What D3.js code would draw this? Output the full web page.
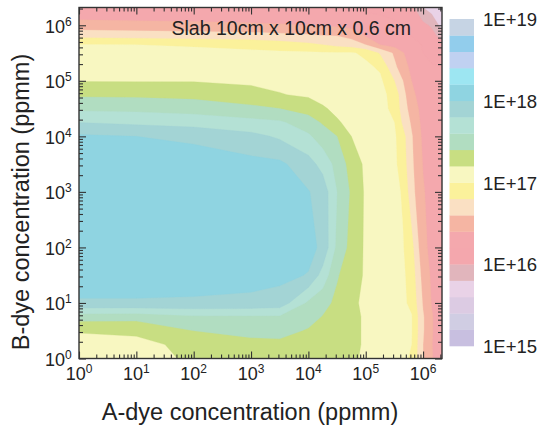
<!DOCTYPE html>
<html>
<head>
<meta charset="utf-8">
<script src="https://cdn.jsdelivr.net/npm/d3@7"></script>
<style>
    body { margin: 0; background: #fff; }
    text { font-family: "Liberation Sans", Arial, sans-serif; fill: #222; }
</style>
</head>
<body>
<svg id="chart" width="541" height="426"></svg>
<script>

// ========== DATA ==========

// grid nodes, log10 of the dye concentrations (ppmm)
const lxNodes = [0, 1, 2, 3, 3.5, 4, 4.25, 4.5, 4.75, 5, 5.25, 5.5, 5.65, 5.8, 6, 6.15, 6.33];
const lyNodes = [0, 0.25, 0.5, 0.75, 1, 1.5, 2, 3, 3.5, 4, 4.25, 4.5, 4.75, 5, 5.25, 5.5, 5.65, 5.8, 6, 6.32];

// log10 of the plotted value, one row per lyNodes entry (bottom to top), one column per lxNodes entry
const zRows = [
    [17.10, 17.15, 17.22, 17.32, 17.33, 17.30, 17.28, 17.25, 17.22, 17.18, 17.12, 17.06, 17.03, 16.98, 16.60, 16.42, 16.25],
    [17.15, 17.17, 17.23, 17.33, 17.35, 17.33, 17.30, 17.27, 17.24, 17.18, 17.13, 17.07, 17.03, 17.00, 16.60, 16.41, 16.25],
    [17.21, 17.22, 17.40, 17.47, 17.47, 17.38, 17.34, 17.29, 17.24, 17.18, 17.13, 17.07, 17.04, 17.01, 16.62, 16.42, 16.26],
    [17.49, 17.48, 17.57, 17.57, 17.57, 17.48, 17.39, 17.30, 17.24, 17.18, 17.13, 17.07, 17.04, 17.01, 16.62, 16.42, 16.26],
    [17.98, 17.98, 17.97, 17.95, 17.92, 17.56, 17.47, 17.35, 17.23, 17.17, 17.13, 17.07, 17.03, 16.96, 16.58, 16.39, 16.25],
    [18.10, 18.10, 18.10, 18.08, 18.05, 17.99, 17.72, 17.42, 17.27, 17.18, 17.13, 17.06, 17.03, 16.92, 16.52, 16.37, 16.26],
    [18.12, 18.12, 18.12, 18.12, 18.10, 18.06, 17.96, 17.55, 17.33, 17.17, 17.12, 17.05, 17.01, 16.87, 16.44, 16.36, 16.26],
    [18.12, 18.12, 18.12, 18.10, 18.07, 18.01, 17.92, 17.60, 17.37, 17.17, 17.12, 17.05, 16.98, 16.67, 16.42, 16.32, 16.27],
    [18.10, 18.10, 18.10, 18.06, 18.04, 17.88, 17.73, 17.53, 17.32, 17.16, 17.10, 17.04, 16.90, 16.64, 16.39, 16.31, 16.27],
    [18.03, 18.00, 17.96, 17.86, 17.77, 17.63, 17.50, 17.40, 17.20, 17.14, 17.09, 17.03, 16.87, 16.62, 16.36, 16.30, 16.26],
    [17.80, 17.76, 17.72, 17.66, 17.63, 17.49, 17.38, 17.22, 17.15, 17.12, 17.07, 17.00, 16.76, 16.57, 16.34, 16.29, 16.26],
    [17.56, 17.55, 17.52, 17.45, 17.40, 17.32, 17.22, 17.16, 17.13, 17.09, 17.05, 16.96, 16.69, 16.52, 16.32, 16.28, 16.25],
    [17.37, 17.36, 17.34, 17.26, 17.21, 17.17, 17.14, 17.12, 17.10, 17.07, 17.06, 16.93, 16.67, 16.45, 16.30, 16.27, 16.24],
    [17.19, 17.19, 17.19, 17.17, 17.15, 17.13, 17.12, 17.11, 17.10, 17.07, 17.04, 16.80, 16.60, 16.40, 16.27, 16.24, 16.23],
    [17.12, 17.12, 17.11, 17.10, 17.09, 17.08, 17.07, 17.06, 17.05, 17.04, 16.97, 16.64, 16.50, 16.34, 16.23, 16.21, 16.20],
    [17.06, 17.06, 17.05, 17.04, 17.03, 17.03, 17.02, 17.02, 17.02, 16.96, 16.78, 16.57, 16.41, 16.32, 16.20, 16.17, 16.18],
    [17.01, 17.00, 16.98, 16.94, 16.90, 16.84, 16.80, 16.74, 16.70, 16.60, 16.40, 16.33, 16.30, 16.26, 16.19, 16.15, 16.10],
    [16.76, 16.74, 16.72, 16.70, 16.67, 16.65, 16.62, 16.61, 16.55, 16.40, 16.33, 16.27, 16.23, 16.20, 16.15, 16.08, 15.92],
    [16.48, 16.46, 16.45, 16.43, 16.42, 16.40, 16.38, 16.37, 16.34, 16.31, 16.27, 16.23, 16.20, 16.15, 16.05, 15.97, 15.72],
    [16.22, 16.22, 16.22, 16.21, 16.20, 16.20, 16.19, 16.18, 16.17, 16.16, 16.15, 16.13, 16.10, 16.05, 15.80, 15.70, 15.60]
];

// colour levels (log10), bottom to top of the colour bar
const bandEdges = [15.0, 15.2, 15.4, 15.6, 15.8, 16.0, 16.2, 16.4, 16.6, 16.8, 17.0,
                   17.2, 17.4, 17.6, 17.8, 18.0, 18.2, 18.4, 18.6, 18.8, 19.0];
const bandColors = ['#c8bfe0', '#d0cde3', '#dccbe3', '#e9d2e7', '#e1b5bc', '#f4a7ad', '#f4a8ad',
                    '#f5b5a3', '#fae0c3', '#fbf19b', '#f8f7c1', '#c8de82', '#b1ddc1', '#b4e1d5',
                    '#a3d4d5', '#8fd4e1', '#9de6f2', '#c0d1f1', '#92cdec', '#c6d4e4'];

const decades = [0, 1, 2, 3, 4, 5, 6];
const cbValues = [15, 16, 17, 18, 19];
const cbLabels = ['1E+15', '1E+16', '1E+17', '1E+18', '1E+19'];


// ========== MAIN CODE ==========

const plot = { left: 79, right: 442, top: 7.5, bottom: 358.5 };

const svg = d3.select('#chart');

const x = d3.scaleLog()
    .domain([1, Math.pow(10, 6.33)])
    .range([plot.left, plot.right]);

const y = d3.scaleLog()
    .domain([1, Math.pow(10, 6.32)])
    .range([plot.bottom, plot.top]);

// grid coordinate of d3.contours -> log10 value of the node axis
function gridToLog(c, nodes) {
    let t = Math.max(0, Math.min(nodes.length - 1, c - 0.5));
    let i = Math.min(Math.floor(t), nodes.length - 2);
    return nodes[i] + (t - i) * (nodes[i + 1] - nodes[i]);
}

const toScreen = d3.geoTransform({
    point: function (gx, gy) {
        this.stream.point(x(Math.pow(10, gridToLog(gx, lxNodes))),
                          y(Math.pow(10, gridToLog(gy, lyNodes))));
    }
});
const path = d3.geoPath(toScreen);

const contours = d3.contours()
    .size([lxNodes.length, lyNodes.length])
    .thresholds(bandEdges.slice(0, -1))
    (zRows.flat());

svg.append('clipPath').attr('id', 'plot-clip')
    .append('rect')
    .attr('x', plot.left).attr('y', plot.top)
    .attr('width', plot.right - plot.left).attr('height', plot.bottom - plot.top);

// filled bands, lowest first so each level covers the one below
svg.append('g')
    .attr('clip-path', 'url(#plot-clip)')
    .selectAll('path')
    .data(contours)
    .join('path')
    .attr('d', path)
    .attr('fill', d => bandColors[bandEdges.indexOf(d.value)])
    .attr('stroke', d => bandColors[bandEdges.indexOf(d.value)])
    .attr('stroke-width', 0.3);

// ticks: majors at decades, minors at 2..9 x decade
const xMajor = decades.map(d => Math.pow(10, d));
const xMinor = [];
decades.forEach(d => {
    for (let k = 2; k <= 9; k++) {
        let v = k * Math.pow(10, d);
        if (v <= x.domain()[1]) xMinor.push(v);
    }
});
const yMinor = xMinor.filter(v => v <= y.domain()[1]);

function drawTicks(axis, pos, values, size) {
    svg.append('g')
        .attr('transform', pos)
        .call(axis.tickValues(values).tickSize(-size).tickFormat(''))
        .call(g => g.select('.domain').remove())
        .call(g => g.selectAll('line').attr('stroke', '#333').attr('stroke-width', 1.1));
}

drawTicks(d3.axisBottom(x), `translate(0,${plot.bottom})`, xMajor, 7);
drawTicks(d3.axisBottom(x), `translate(0,${plot.bottom})`, xMinor, 4);
drawTicks(d3.axisTop(x), `translate(0,${plot.top})`, xMajor, 7);
drawTicks(d3.axisTop(x), `translate(0,${plot.top})`, xMinor, 4);
drawTicks(d3.axisLeft(y), `translate(${plot.left},0)`, xMajor, 7);
drawTicks(d3.axisLeft(y), `translate(${plot.left},0)`, yMinor, 4);
drawTicks(d3.axisRight(y), `translate(${plot.right},0)`, xMajor, 7);
drawTicks(d3.axisRight(y), `translate(${plot.right},0)`, yMinor, 4);

// frame
svg.append('rect')
    .attr('x', plot.left).attr('y', plot.top)
    .attr('width', plot.right - plot.left).attr('height', plot.bottom - plot.top)
    .attr('fill', 'none')
    .attr('stroke', '#333')
    .attr('stroke-width', 1.4);

// tick labels, 10 with superscript exponent
svg.append('g').selectAll('text')
    .data(decades)
    .join('text')
    .attr('x', d => x(Math.pow(10, d)))
    .attr('y', 380)
    .attr('text-anchor', 'middle')
    .attr('font-size', 18)
    .call(t => {
        t.append('tspan').text('10');
        t.append('tspan').attr('dy', -7).attr('font-size', 12).text(d => d);
    });

svg.append('g').selectAll('text')
    .data(decades)
    .join('text')
    .attr('x', 45)
    .attr('y', d => y(Math.pow(10, d)) + 7.5)
    .attr('font-size', 18)
    .call(t => {
        t.append('tspan').text('10');
        t.append('tspan').attr('dy', -7).attr('font-size', 12).text(d => d);
    });

// axis titles
svg.append('text')
    .attr('x', 250)
    .attr('y', 419.5)
    .attr('text-anchor', 'middle')
    .attr('font-size', 23.5)
    .text('A-dye concentration (ppmm)');

svg.append('text')
    .attr('transform', 'translate(28.5,202) rotate(-90)')
    .attr('text-anchor', 'middle')
    .attr('font-size', 23.5)
    .text('B-dye concentration (ppmm)');

svg.append('text')
    .attr('x', 171.5)
    .attr('y', 35)
    .attr('font-size', 19.5)
    .text('Slab 10cm x 10cm x 0.6 cm');

// colour bar
const cbY = d3.scaleLinear().domain([15, 19]).range([346, 19]);

svg.append('g').selectAll('rect')
    .data(bandColors)
    .join('rect')
    .attr('x', 449.5)
    .attr('width', 24.5)
    .attr('y', (c, i) => cbY(bandEdges[i + 1]))
    .attr('height', (c, i) => cbY(bandEdges[i]) - cbY(bandEdges[i + 1]) + 0.3)
    .attr('fill', c => c);

svg.append('g').selectAll('text')
    .data(cbValues)
    .join('text')
    .attr('x', 483)
    .attr('y', d => cbY(d) + 7)
    .attr('font-size', 18.5)
    .text((d, i) => cbLabels[i]);

</script>
</body>
</html>
